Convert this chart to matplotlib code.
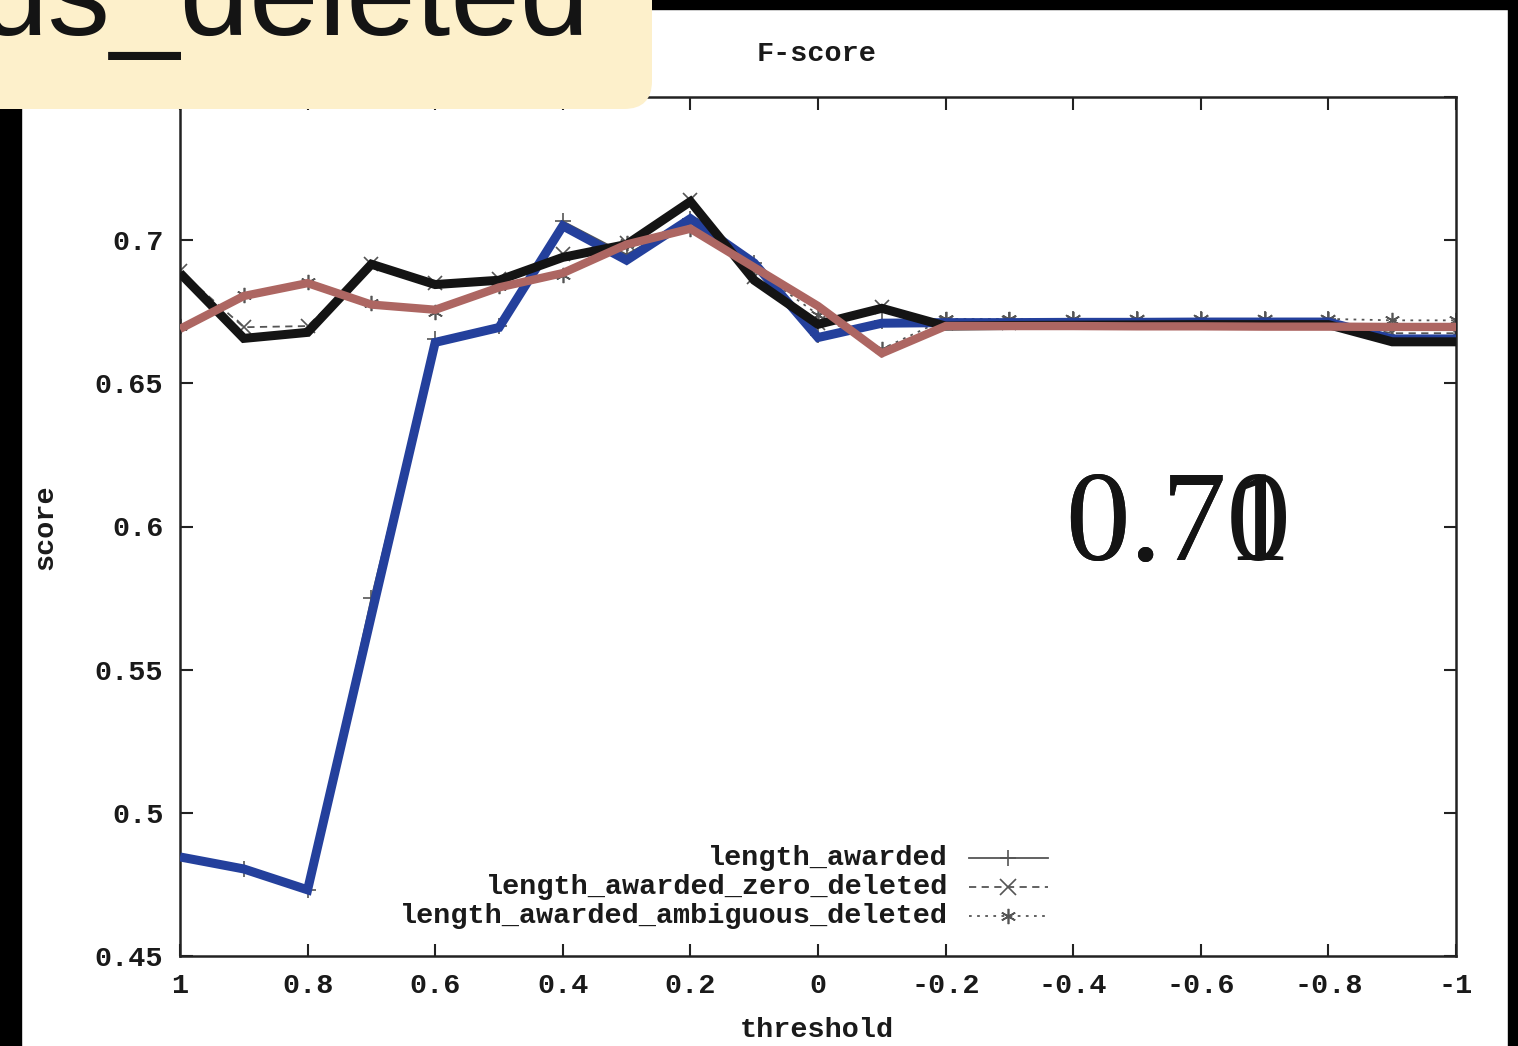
import matplotlib
matplotlib.use("Agg")
import matplotlib.pyplot as plt
from matplotlib.patches import FancyBboxPatch, Rectangle
from matplotlib.transforms import IdentityTransform
from matplotlib.lines import Line2D

# thresholds on the x axis (plotted from 1 down to -1)
threshold = [1.0, 0.9, 0.8, 0.7, 0.6, 0.5, 0.4, 0.3, 0.2, 0.1, 0.0,
             -0.1, -0.2, -0.3, -0.4, -0.5, -0.6, -0.7, -0.8, -0.9, -1.0]

# gnuplot series (thin lines with point markers)
awarded = [0.4846, 0.4804, 0.4731, 0.5750, 0.6654, 0.6699, 0.7066, 0.6950, 0.7075, 0.6920, 0.6668,
           0.6717, 0.6720, 0.6722, 0.6723, 0.6723, 0.6724, 0.6724, 0.6724, 0.6664, 0.6664]
zero_deleted = [0.6892, 0.6696, 0.6700, 0.6916, 0.6850, 0.6864, 0.6950, 0.6990, 0.7140, 0.6870, 0.6710,
                0.6766, 0.6712, 0.6712, 0.6713, 0.6713, 0.6714, 0.6714, 0.6714, 0.6675, 0.6675]
ambiguous_deleted = [0.6700, 0.6808, 0.6855, 0.6780, 0.6748, 0.6840, 0.6880, 0.6990, 0.7040, 0.6900, 0.6740,
                     0.6620, 0.6725, 0.6725, 0.6725, 0.6725, 0.6725, 0.6725, 0.6725, 0.6720, 0.6720]

# thick highlight traces drawn over the series
blue_trace = [0.4846, 0.4804, 0.4731, 0.5690, 0.6643, 0.6695, 0.7050, 0.6930, 0.7075, 0.6920, 0.6660,
              0.6710, 0.6712, 0.6712, 0.6713, 0.6713, 0.6714, 0.6714, 0.6714, 0.6655, 0.6655]
black_trace = [0.6885, 0.6657, 0.6678, 0.6916, 0.6845, 0.6860, 0.6940, 0.6985, 0.7135, 0.6860, 0.6706,
               0.6762, 0.6700, 0.6702, 0.6703, 0.6704, 0.6705, 0.6705, 0.6705, 0.6645, 0.6645]
brown_trace = [0.6690, 0.6805, 0.6850, 0.6775, 0.6757, 0.6835, 0.6885, 0.6985, 0.7040, 0.6905, 0.6770,
               0.6605, 0.6700, 0.6700, 0.6700, 0.6699, 0.6699, 0.6698, 0.6698, 0.6697, 0.6697]

xticks = [1.0, 0.8, 0.6, 0.4, 0.2, 0.0, -0.2, -0.4, -0.6, -0.8, -1.0]
xtick_labels = ["1", "0.8", "0.6", "0.4", "0.2", "0", "-0.2", "-0.4", "-0.6", "-0.8", "-1"]
yticks = [0.45, 0.5, 0.55, 0.6, 0.65, 0.7, 0.75]
ytick_labels = ["0.45", "0.5", "0.55", "0.6", "0.65", "0.7", "0.75"]

labels = ["length_awarded", "length_awarded_zero_deleted", "length_awarded_ambiguous_deleted"]

mono = "Liberation Mono"
fs = 20.5
fw = "bold"
W, H = 1518, 1046

fig = plt.figure(figsize=(W / 100, H / 100), dpi=100)
fig.patch.set_facecolor("white")
ax = fig.add_axes([180 / W, 90 / H, 1276 / W, 859 / H])

asterisk = (6, 2, 0)
ax.plot(threshold, awarded, color="#555555", lw=1.3, marker="+", ms=11, mew=1.2, zorder=2)
ax.plot(threshold, zero_deleted, color="#555555", lw=1.3, ls=(0, (4, 3)), marker="x", ms=10, mew=1.2, zorder=2)
ax.plot(threshold, ambiguous_deleted, color="#555555", lw=1.3, ls=(0, (1.5, 3)), marker=asterisk, ms=11,
        mew=1.2, zorder=2)

thick = dict(lw=6.5, solid_joinstyle="miter", solid_capstyle="butt")
ax.plot(threshold, blue_trace, color="#24409c", zorder=3, **thick)
ax.plot(threshold, black_trace, color="#141414", zorder=4, **thick)
ax.plot(threshold, brown_trace, color="#ad6662", zorder=5, lw=6.0, solid_joinstyle="miter",
        solid_capstyle="butt")

ax.set_xlim(1, -1)
ax.set_ylim(0.45, 0.75)
ax.set_xticks(xticks)
ax.set_xticklabels(xtick_labels)
ax.set_yticks(yticks)
ax.set_yticklabels(ytick_labels)
ax.tick_params(direction="in", length=9, width=1.5, color="#222222", top=True, right=True,
               labelsize=fs, pad=12)
for lab in ax.get_xticklabels() + ax.get_yticklabels():
    lab.set_fontfamily(mono)
    lab.set_fontweight(fw)
    lab.set_color("#1a1a1a")
for sp in ax.spines.values():
    sp.set_linewidth(1.8)
    sp.set_color("#222222")

# key, right-aligned text with line samples
rows = [0.114, 0.080, 0.047]
styles = [dict(ls="-", marker="+"), dict(ls=(0, (4, 3)), marker="x"), dict(ls=(0, (1.5, 3)), marker=asterisk)]
for lab, yy, st in zip(labels, rows, styles):
    ax.text(0.602, yy, lab, transform=ax.transAxes, ha="right", va="center", fontsize=fs,
            family=mono, weight=fw, color="#1a1a1a")
    ax.add_line(Line2D([0.618, 0.680], [yy, yy], transform=ax.transAxes, color="#555555", lw=1.3,
                       ls=st["ls"]))
    ax.add_line(Line2D([0.649], [yy], transform=ax.transAxes, color="#555555", marker=st["marker"],
                       ms=11, mew=1.2, ls="none"))

fig.text(817 / W, 1 - 54 / H, "F-score", ha="center", va="center", fontsize=fs, family=mono,
         weight=fw, color="#1a1a1a")
fig.text(817 / W, 1 - 1030 / H, "threshold", ha="center", va="center", fontsize=fs, family=mono,
         weight=fw, color="#1a1a1a")
fig.text(45 / W, 1 - 527 / H, "score", ha="center", va="center", rotation=90, fontsize=fs,
         family=mono, weight=fw, color="#1a1a1a")

# dark frame strips around the page
px = IdentityTransform()
fig.patches.append(Rectangle((0, 0), 21, H - 108, transform=px, color="black", zorder=10))
fig.patches.append(Rectangle((640, H - 9), W - 640, 9, transform=px, color="black", zorder=10))
fig.patches.append(Rectangle((1508, 0), 10, H, transform=px, color="black", zorder=10))

# callout box in the corner
fig.patches.append(FancyBboxPatch((-60, H - 109), 712, 200, transform=px,
                                  boxstyle="round,pad=0,rounding_size=28",
                                  facecolor="#fdf0cb", edgecolor="none", zorder=11))
fig.text(590 / W, (H - 35) / H, "us_deleted", ha="right", va="baseline", fontsize=90,
         family="Liberation Sans", color="#141414", zorder=12)

# big value readout
for s in ["0.70", "0.71"]:
    fig.text(1065 / W, (H - 560) / H, s, ha="left", va="baseline", fontsize=93,
             family="Liberation Serif", color="#141414", zorder=12)

fig.savefig("out.png", dpi=100)
